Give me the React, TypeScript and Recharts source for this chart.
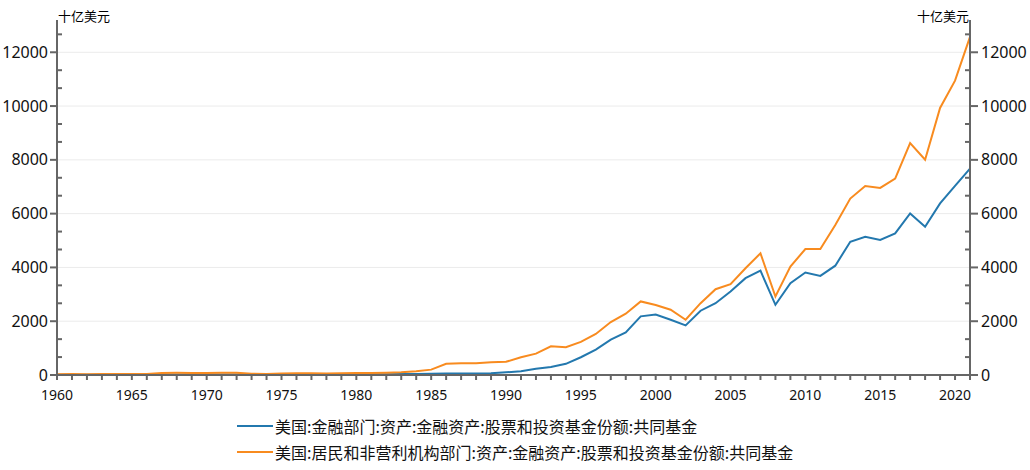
import React from "react";
import { LineChart, Line, XAxis, YAxis, ReferenceLine } from "recharts";

// US mutual fund holdings, billions of USD
const years = [
  1960, 1961, 1962, 1963, 1964, 1965, 1966, 1967, 1968, 1969,
  1970, 1971, 1972, 1973, 1974, 1975, 1976, 1977, 1978, 1979,
  1980, 1981, 1982, 1983, 1984, 1985, 1986, 1987, 1988, 1989,
  1990, 1991, 1992, 1993, 1994, 1995, 1996, 1997, 1998, 1999,
  2000, 2001, 2002, 2003, 2004, 2005, 2006, 2007, 2008, 2009,
  2010, 2011, 2012, 2013, 2014, 2015, 2016, 2017, 2018, 2019,
  2020, 2021,
];

const financialSector = [
  10, 12, 10, 12, 14, 15, 15, 18, 20, 20,
  18, 20, 20, 15, 12, 15, 18, 18, 18, 20,
  22, 25, 30, 35, 40, 50, 55, 58, 60, 65,
  100, 140, 230, 300, 415, 660, 945, 1315, 1585, 2180,
  2245, 2055, 1845, 2390, 2670, 3105, 3600, 3880, 2610, 3415,
  3810, 3685, 4065, 4955, 5140, 5020, 5265, 6005, 5510, 6380,
  7030, 7675,
];

const households = [
  30, 35, 30, 35, 40, 40, 38, 75, 80, 78,
  75, 80, 82, 50, 40, 60, 65, 62, 60, 65,
  70, 72, 80, 100, 140, 200, 415, 440, 440, 475,
  490, 660, 795, 1065, 1030, 1230, 1525, 1970, 2280, 2735,
  2600, 2425, 2055, 2670, 3190, 3375, 3970, 4525, 2920, 4030,
  4685, 4685, 5575, 6560, 7030, 6955, 7300, 8620, 8005, 9930,
  10945, 12575,
];

const seriesNames = [
  "美国:金融部门:资产:金融资产:股票和投资基金份额:共同基金",
  "美国:居民和非营利机构部门:资产:金融资产:股票和投资基金份额:共同基金",
];
const seriesColors = ["#2378ae", "#f88b1f"];

const unitLabel = "十亿美元";
const yMajorTicks = [0, 2000, 4000, 6000, 8000, 10000, 12000];
const yMinorStep = 2000 / 3;
const yTicks = Array.from({ length: 20 }, (_, k) => k * yMinorStep);
const xLabelYears = [1960, 1965, 1970, 1975, 1980, 1985, 1990, 1995, 2000, 2005, 2010, 2015, 2020];

const data = years.map((year, i) => ({
  year,
  fin: financialSector[i],
  hh: households[i],
}));

const AXIS = "#666666";
const FONT = '"Noto Sans", "Noto Sans CJK SC", sans-serif';

const isMajor = (v: number) => Math.round(v) % 2000 === 0;

const LeftTick = (props: any) => {
  const { x, y, payload } = props;
  const v = payload.value;
  if (!isMajor(v)) {
    return <line x1={x} x2={x + 5} y1={y} y2={y} stroke={AXIS} strokeWidth={2} />;
  }
  return (
    <g>
      <line x1={x - 7} x2={x} y1={y} y2={y} stroke={AXIS} strokeWidth={2} />
      <text x={x - 9} y={y} dy={5.5} textAnchor="end" fontSize={16} fontFamily={FONT} fill="#111">
        {Math.round(v)}
      </text>
    </g>
  );
};

const RightTick = (props: any) => {
  const { x, y, payload } = props;
  const v = payload.value;
  if (!isMajor(v)) {
    return <line x1={x - 5} x2={x} y1={y} y2={y} stroke={AXIS} strokeWidth={2} />;
  }
  return (
    <g>
      <line x1={x} x2={x + 8} y1={y} y2={y} stroke={AXIS} strokeWidth={2} />
      <text x={x + 11} y={y} dy={5.5} textAnchor="start" fontSize={16} fontFamily={FONT} fill="#111">
        {Math.round(v)}
      </text>
    </g>
  );
};

const BottomTick = (props: any) => {
  const { x, y, payload } = props;
  const v = payload.value;
  return (
    <g>
      <line x1={x} x2={x} y1={y} y2={y + 5} stroke={AXIS} strokeWidth={2} />
      {xLabelYears.includes(v) && (
        <text x={x} y={y + 25} textAnchor="middle" fontSize={14} fontFamily={FONT} fill="#111">
          {v}
        </text>
      )}
    </g>
  );
};

export default function App() {
  return (
    <div style={{ position: "absolute", left: 0, top: 0, width: 1030, height: 470, background: "#fff" }}>
      <LineChart
        width={1030}
        height={470}
        data={data}
        margin={{ top: 20, right: 0, left: 0, bottom: 65 }}
      >
        {yMajorTicks.slice(1).map((v) => (
          <ReferenceLine key={v} yAxisId="left" y={v} stroke="#ebebeb" strokeWidth={1} />
        ))}
        <XAxis
          dataKey="year"
          type="number"
          domain={[1960, 2021]}
          ticks={years}
          interval={0}
          tickSize={0}
          tickMargin={0}
          tickLine={false}
          axisLine={{ stroke: AXIS, strokeWidth: 2 }}
          tick={BottomTick}
          height={30}
        />
        <YAxis
          yAxisId="left"
          orientation="left"
          width={57}
          domain={[0, 13200]}
          ticks={yTicks}
          interval={0}
          tickSize={0}
          tickMargin={0}
          tickLine={false}
          axisLine={{ stroke: AXIS, strokeWidth: 2 }}
          tick={LeftTick}
        />
        <YAxis
          yAxisId="right"
          orientation="right"
          width={60}
          domain={[0, 13200]}
          ticks={yTicks}
          interval={0}
          tickSize={0}
          tickMargin={0}
          tickLine={false}
          axisLine={{ stroke: AXIS, strokeWidth: 2 }}
          tick={RightTick}
        />
        <Line
          yAxisId="left"
          type="linear"
          dataKey="fin"
          name={seriesNames[0]}
          stroke={seriesColors[0]}
          strokeWidth={2}
          dot={false}
          isAnimationActive={false}
        />
        <Line
          yAxisId="right"
          type="linear"
          dataKey="hh"
          name={seriesNames[1]}
          stroke={seriesColors[1]}
          strokeWidth={2}
          dot={false}
          isAnimationActive={false}
        />
      </LineChart>

      <div style={{ position: "absolute", left: 58, top: 9, fontSize: 13, fontFamily: FONT, color: "#000", lineHeight: "15px" }}>
        {unitLabel}
      </div>
      <div style={{ position: "absolute", right: 61, top: 9, fontSize: 13, fontFamily: FONT, color: "#000", lineHeight: "15px" }}>
        {unitLabel}
      </div>

      <div style={{ position: "absolute", left: 237, top: 413, fontFamily: '"Noto Sans CJK SC", sans-serif', fontSize: 16, color: "#111", lineHeight: "26px" }}>
        {seriesNames.map((name, i) => (
          <div key={name} style={{ display: "flex", alignItems: "center", height: 26 }}>
            <span style={{ display: "inline-block", width: 36, height: 2, background: seriesColors[i], marginRight: 2 }} />
            <span>{name}</span>
          </div>
        ))}
      </div>
    </div>
  );
}
